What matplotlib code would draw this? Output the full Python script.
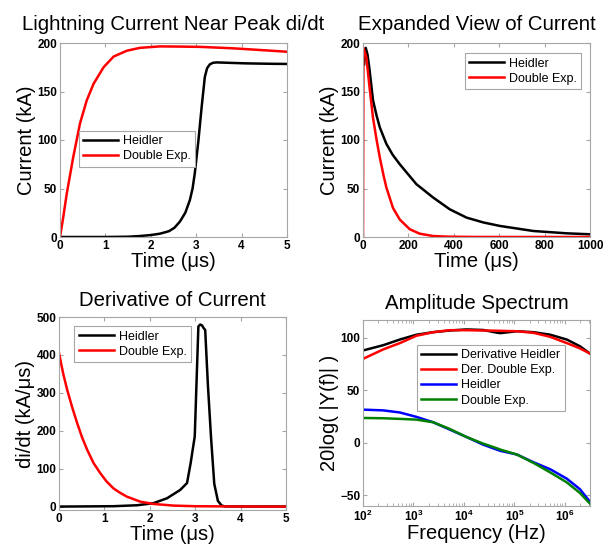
import numpy as np
import matplotlib
matplotlib.use("Agg")
import matplotlib.pyplot as plt
from matplotlib.ticker import FuncFormatter, LogLocator, NullFormatter

plt.rcParams['font.family'] = ['Liberation Sans', 'DejaVu Sans']
plt.rcParams['mathtext.fontset'] = 'custom'
plt.rcParams['mathtext.rm'] = 'Liberation Sans:bold'
plt.rcParams['mathtext.bf'] = 'Liberation Sans:bold'
plt.rcParams['mathtext.it'] = 'Liberation Sans:bold'

# ---------------- data ----------------
# Panel 1: Lightning current near peak (t in us, I in kA)
p1_heid_t = [0, 1.0, 1.5, 1.76, 2.0, 2.2, 2.4, 2.52, 2.64, 2.76, 2.86, 2.92, 2.97, 3.01, 3.05, 3.12, 3.19, 3.24, 3.3, 3.37, 3.45, 3.7, 4.1, 4.6, 5.0]
p1_heid_i = [0, 0, 0.3, 1, 2, 3.4, 6, 9.5, 15.8, 25, 38, 50, 66, 83, 100, 134, 165, 174, 178, 179.6, 180, 179.6, 179, 178.6, 178.4]
p1_dexp_t = [0, 0.07, 0.15, 0.29, 0.44, 0.59, 0.74, 0.96, 1.18, 1.47, 1.76, 2.2, 2.64, 3.09, 3.82, 4.5, 5.0]
p1_dexp_i = [0, 20, 45, 82, 117, 141, 158, 175, 186, 192, 195, 196.5, 196.3, 196, 194.5, 192.5, 191]

# Panel 2: Expanded view of current
p2_heid_t = [5, 12, 20, 29, 44, 60, 74, 103, 130, 162, 235, 309, 382, 456, 530, 603, 750, 897, 1000]
p2_heid_i = [178, 195, 188, 172, 141, 125, 113, 96, 85, 75, 54.5, 40.7, 28.6, 20, 15, 11.4, 6.2, 3.8, 2.8]
p2_dexp_t = [0, 2, 15, 29, 44, 60, 74, 90, 103, 132, 162, 206, 250, 309, 382, 500, 1000]
p2_dexp_i = [0, 195, 185, 154, 123, 100, 82, 64, 51, 30, 18, 8, 3.4, 1, 0.3, 0.05, 0]

# Panel 3: Derivative of current (kA/us)
p3_heid_t = [0, 1.2, 1.72, 2.08, 2.38, 2.67, 2.82, 2.9, 2.99, 3.03, 3.07, 3.11, 3.15, 3.19, 3.22, 3.28, 3.35, 3.42, 3.5, 3.58, 3.65, 4.0, 5.0]
p3_heid_d = [0, 1, 3.5, 9, 22, 44, 62, 115, 185, 330, 475, 480, 478, 470, 466, 320, 180, 60, 15, 3, 0.5, 0.3, 0.3]
p3_dexp_t = [0, 0.09, 0.18, 0.29, 0.4, 0.51, 0.62, 0.76, 0.91, 1.05, 1.2, 1.35, 1.5, 1.79, 2.08, 2.52, 3.0, 4.0, 5.0]
p3_dexp_d = [405, 352, 308, 262, 220, 182, 150, 115, 88, 66, 48, 36, 26, 13, 7, 2.6, 1, 0.2, 0]

# Panel 4: Amplitude spectrum (Hz, dB)
p4_freq = [100, 251, 537, 1148, 2455, 5248, 11220, 23990, 44670, 52480, 112200, 239900, 512900, 1096000, 1995000, 3162000]
p4_der_heid = [88, 93, 98.4, 103, 105.4, 107, 108, 107.5, 105, 104.5, 106.3, 105.4, 103, 98.4, 92, 85]
p4_der_dexp = [80, 89, 95, 102, 105.4, 107.3, 107.3, 107, 106.8, 106.7, 106.3, 104.8, 101, 95, 90, 85]
p4_heid = [31.7, 31, 29, 24.8, 19.7, 12.7, 5.7, -1.6, -6.3, -7.5, -11, -18.4, -25, -34, -44, -56]
p4_dexp = [23.8, 23.5, 22.9, 22.2, 19.7, 13.3, 5.7, -0.6, -5, -6.3, -11, -19, -28, -37.5, -47.6, -57.8]

# ---------------- styling ----------------
W, H = 603, 552
fig = plt.figure(figsize=(W / 100, H / 100), dpi=100)
FRAME = '#a6a6a6'
LW = 1.8
TICKFS = 8.5
LABFS = 14.5
TITFS = 14.7
LEGFS = 9


def make_ax(l, t, r, b):
    ax = fig.add_axes([l / W, 1 - b / H, (r - l) / W, (b - t) / H])
    for s in ax.spines.values():
        s.set_color(FRAME)
        s.set_linewidth(0.8)
    ax.tick_params(direction='in', top=True, right=True, length=3, color=FRAME,
                   labelsize=TICKFS, pad=2)
    return ax


def bold_ticks(ax):
    for lab in ax.get_xticklabels() + ax.get_yticklabels():
        lab.set_fontweight('bold')


def legend(ax, **kw):
    lg = ax.legend(fontsize=LEGFS, frameon=True, fancybox=False, framealpha=1,
                   edgecolor=FRAME, handlelength=2.8, handletextpad=0.4,
                   borderpad=0.35, labelspacing=0.25, **kw)
    lg.get_frame().set_linewidth(0.8)
    return lg


# Panel 1
ax1 = make_ax(60, 43, 287, 237)
ax1.plot(p1_heid_t, p1_heid_i, color='black', lw=LW, label='Heidler')
ax1.plot(p1_dexp_t, p1_dexp_i, color='red', lw=LW, label='Double Exp.')
ax1.set_xlim(0, 5)
ax1.set_ylim(0, 200)
ax1.set_xticks([0, 1, 2, 3, 4, 5])
ax1.set_yticks([0, 50, 100, 150, 200])
ax1.set_title('Lightning Current Near Peak di/dt', fontsize=TITFS, pad=9)
ax1.set_xlabel('Time (\u03bcs)', fontsize=LABFS, labelpad=0)
ax1.set_ylabel('Current (kA)', fontsize=LABFS, labelpad=1)
legend(ax1, loc='lower left', bbox_to_anchor=(0.055, 0.33))
bold_ticks(ax1)

# Panel 2
ax2 = make_ax(363, 43, 590, 237)
ax2.plot(p2_heid_t, p2_heid_i, color='black', lw=LW, label='Heidler')
ax2.plot(p2_dexp_t, p2_dexp_i, color='red', lw=LW, label='Double Exp.')
ax2.set_xlim(0, 1000)
ax2.set_ylim(0, 200)
ax2.set_xticks([0, 200, 400, 600, 800, 1000])
ax2.set_yticks([0, 50, 100, 150, 200])
ax2.set_title('Expanded View of Current', fontsize=TITFS, pad=9)
ax2.set_xlabel('Time (\u03bcs)', fontsize=LABFS, labelpad=0)
ax2.set_ylabel('Current (kA)', fontsize=LABFS, labelpad=1)
legend(ax2, loc='upper right', bbox_to_anchor=(0.99, 0.98))
bold_ticks(ax2)

# Panel 3
ax3 = make_ax(59, 317, 286, 510)
ax3.plot(p3_heid_t, p3_heid_d, color='black', lw=LW, label='Heidler')
ax3.plot(p3_dexp_t, p3_dexp_d, color='red', lw=LW, label='Double Exp.')
ax3.set_xlim(0, 5)
ax3.set_ylim(-9, 500)
ax3.set_xticks([0, 1, 2, 3, 4, 5])
ax3.set_yticks([0, 100, 200, 300, 400, 500])
ax3.set_title('Derivative of Current', fontsize=TITFS, pad=8)
ax3.set_xlabel('Time (\u03bcs)', fontsize=LABFS, labelpad=0)
ax3.set_ylabel('di/dt (kA/\u03bcs)', fontsize=LABFS, labelpad=1)
legend(ax3, loc='upper left', bbox_to_anchor=(0.04, 0.985))
bold_ticks(ax3)

# Panel 4
ax4 = make_ax(363, 320, 590, 506)
ax4.semilogx(p4_freq, p4_der_heid, color='black', lw=LW, label='Derivative Heidler')
ax4.semilogx(p4_freq, p4_der_dexp, color='red', lw=LW, label='Der. Double Exp.')
ax4.semilogx(p4_freq, p4_heid, color='blue', lw=LW, label='Heidler')
ax4.semilogx(p4_freq, p4_dexp, color='green', lw=LW, label='Double Exp.')
ax4.set_xlim(100, 3.16e6)
ax4.set_ylim(-60, 117)
ax4.set_yticks([-50, 0, 50, 100])
ax4.xaxis.set_major_locator(LogLocator(base=10, numticks=10))
ax4.xaxis.set_minor_locator(LogLocator(base=10, subs=np.arange(2, 10), numticks=20))
ax4.xaxis.set_minor_formatter(NullFormatter())
ax4.xaxis.set_major_formatter(FuncFormatter(lambda v, p: r'$\mathbf{10^{%d}}$' % int(round(np.log10(v)))))
ax4.tick_params(which='minor', direction='in', top=True, length=2, color=FRAME)
ax4.set_title('Amplitude Spectrum', fontsize=TITFS, pad=8)
ax4.set_xlabel('Frequency (Hz)', fontsize=LABFS, labelpad=0)
ax4.set_ylabel('20log( |Y(f)| )', fontsize=LABFS, labelpad=1)
legend(ax4, loc='upper left', bbox_to_anchor=(0.21, 0.9))
bold_ticks(ax4)

fig.savefig('out.png', dpi=100)
